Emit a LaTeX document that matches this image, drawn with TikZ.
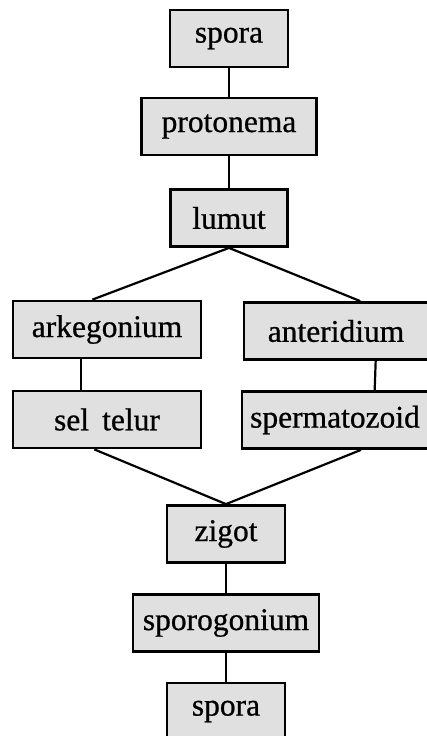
\documentclass[tikz,border=0pt]{standalone}
\usepackage{fontspec}
\setmainfont{Liberation Serif}
\usepackage{xcolor}
\usepackage{tikz}
\usetikzlibrary{positioning}

\definecolor{boxfill}{gray}{0.88}

\begin{document}
\begin{tikzpicture}[
  x=1pt, y=-1pt,
  stage/.style={rectangle, draw=black, fill=boxfill, line width=2.8pt,
                minimum height=57pt, inner sep=0pt,
                font=\fontsize{31.5}{36}\selectfont\addfontfeature{FakeBold=0.7}},
  edge/.style={line width=2.2pt, black}
]
  \useasboundingbox (0,0) rectangle (427,736);

  \node[stage, minimum width=118pt] (s1)    at (229, 38.5)  {spora};
  \node[stage, minimum width=175pt] (proto) at (229, 126.5) {protonema};
  \node[stage, minimum width=117pt] (lumut) at (229, 218)   {lumut};
  \node[stage, minimum width=188pt] (arke)  at (107, 329.5) {arkegonium};
  \node[stage, minimum width=184pt] (anti)  at (336, 331)   {anteridium};
  \node[stage, minimum width=188pt] (sel)   at (107, 419.5) {sel\, telur};
  \node[stage, minimum width=186pt] (sperm) at (335, 420)   {spermatozoid};
  \node[stage, minimum width=118pt] (zigot) at (226, 534)   {zigot};
  \node[stage, minimum width=186pt] (sporo) at (226, 623)   {sporogonium};
  \node[stage, minimum width=118pt] (s2)    at (226, 711.5) {spora};

  \draw[edge] (s1.south) -- (proto.north);
  \draw[edge] (proto.south) -- (lumut.north);
  \draw[edge] (lumut.south) -- (arke.116);
  \draw[edge] (lumut.south) -- (anti.51);
  \draw[edge] (arke.229) -- (sel.131);
  \draw[edge] (anti.323) -- (sperm.37);
  \draw[edge] (sel.247) -- (zigot.north);
  \draw[edge] (sperm.311) -- (zigot.north);
  \draw[edge] (zigot.south) -- (sporo.north);
  \draw[edge] (sporo.south) -- (s2.north);
\end{tikzpicture}
\end{document}
